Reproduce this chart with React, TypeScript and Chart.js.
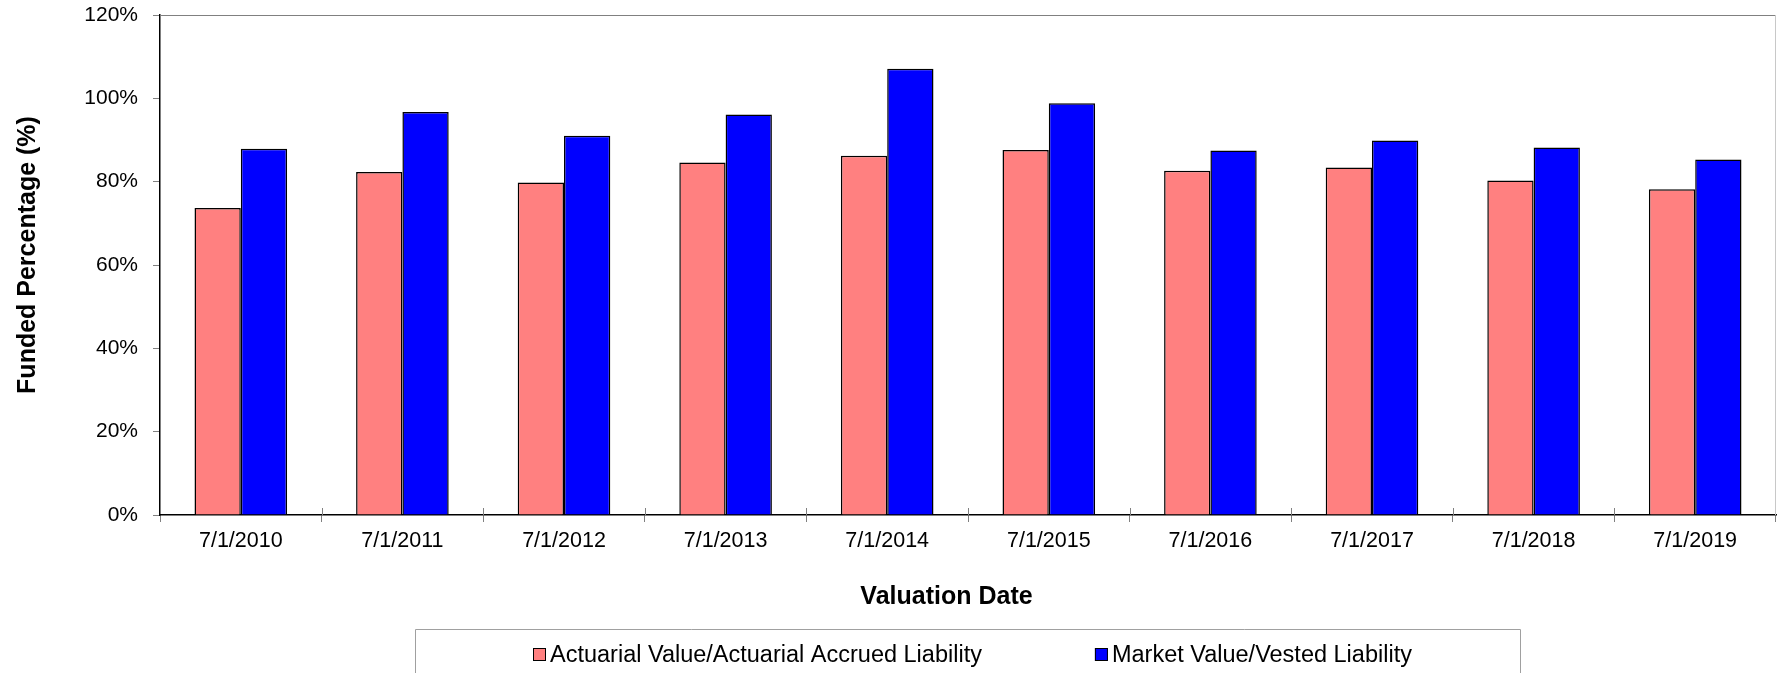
import React, { useEffect, useRef } from 'react';
import { Chart, registerables } from 'chart.js';

Chart.register(...registerables);

const categories = [
  '7/1/2010', '7/1/2011', '7/1/2012', '7/1/2013', '7/1/2014',
  '7/1/2015', '7/1/2016', '7/1/2017', '7/1/2018', '7/1/2019',
];
const actuarialValues = [73.7, 82.3, 79.8, 84.6, 86.2, 87.6, 82.6, 83.4, 80.3, 78.2];
const marketValues = [87.9, 96.7, 91.0, 96.1, 107.1, 98.8, 87.5, 89.9, 88.2, 85.3];
const seriesLabels = ['Actuarial Value/Actuarial Accrued Liability', 'Market Value/Vested Liability'];
const seriesColors = ['#FF8080', '#0000FF'];
const yMin = 0;
const yMax = 120;
const yStep = 20;
const xTitle = 'Valuation Date';
const yTitle = 'Funded Percentage (%)';

const FONT = '"Liberation Sans", Arial, Helvetica, sans-serif';

export default function App() {
  const ref = useRef<HTMLCanvasElement>(null);

  useEffect(() => {
    const canvas = ref.current;
    if (!canvas) return;

    const framePlugin = {
      id: 'frame',
      beforeDatasetsDraw(chart: any) {
        const { ctx, chartArea: a } = chart;
        ctx.save();
        ctx.lineWidth = 1;
        ctx.strokeStyle = '#808080';
        ctx.beginPath();
        ctx.moveTo(a.left, a.top + 0.5);
        ctx.lineTo(a.right, a.top + 0.5);
        ctx.stroke();
        ctx.strokeStyle = '#c8c8c8';
        ctx.beginPath();
        ctx.moveTo(a.right - 0.5, a.top);
        ctx.lineTo(a.right - 0.5, a.bottom);
        ctx.stroke();
        // inner half of x tick marks
        const xs = chart.scales.x;
        ctx.strokeStyle = '#808080';
        const n = chart.data.labels.length;
        for (let i = 0; i < n - 1; i++) {
          const px = Math.round((xs.getPixelForValue(i) + xs.getPixelForValue(i + 1)) / 2) + 0.5;
          ctx.beginPath();
          ctx.moveTo(px, a.bottom - 7);
          ctx.lineTo(px, a.bottom);
          ctx.stroke();
        }
        ctx.restore();
      },
    };

    const titlesPlugin = {
      id: 'axisTitles',
      afterDraw(chart: any) {
        const { ctx, chartArea: a } = chart;
        const cx = (a.left + a.right) / 2;
        const cy = (a.top + a.bottom) / 2;
        ctx.save();
        ctx.fillStyle = '#000';
        ctx.font = `bold 25px ${FONT}`;
        ctx.textAlign = 'center';
        ctx.textBaseline = 'alphabetic';
        ctx.fillText(xTitle, cx - 21.5, 603.5);
        ctx.translate(35, cy - 10);
        ctx.rotate(-Math.PI / 2);
        ctx.fillText(yTitle, 0, 0);
        ctx.restore();
      },
    };

    const legendPlugin = {
      id: 'boxLegend',
      afterDraw(chart: any) {
        const { ctx, chartArea: a } = chart;
        const cx = (a.left + a.right) / 2;
        const boxL = Math.round(cx - 553) + 0.5;
        const boxR = Math.round(cx + 553) - 0.5;
        const boxT = 629.5;
        ctx.save();
        ctx.lineWidth = 1;
        ctx.strokeStyle = '#a0a0a0';
        ctx.beginPath();
        ctx.moveTo(boxL, 700);
        ctx.lineTo(boxL, boxT);
        ctx.lineTo(boxR, boxT);
        ctx.lineTo(boxR, 700);
        ctx.stroke();

        ctx.font = `23.5px ${FONT}`;
        ctx.textBaseline = 'alphabetic';
        ctx.textAlign = 'left';
        const sq = 13;
        const gapText = 4;
        const gapItem = 113;
        const items = chart.data.datasets.map((ds: any) => ({
          label: ds.label,
          color: ds.backgroundColor,
          w: ctx.measureText(ds.label).width,
        }));
        let total = 0;
        items.forEach((it: any, i: number) => {
          total += sq + gapText + it.w + (i > 0 ? gapItem : 0);
        });
        let x = Math.round(cx + 4 - total / 2);
        items.forEach((it: any) => {
          ctx.fillStyle = it.color;
          ctx.fillRect(x, 648, sq, sq);
          ctx.strokeStyle = '#000';
          ctx.strokeRect(x + 0.5, 648.5, sq - 1, sq - 1);
          ctx.fillStyle = '#000';
          ctx.fillText(it.label, x + sq + gapText, 661.5);
          x += sq + gapText + it.w + gapItem;
        });
        ctx.restore();
      },
    };

    const chart = new Chart(canvas, {
      type: 'bar',
      data: {
        labels: categories,
        datasets: [
          {
            label: seriesLabels[0],
            data: actuarialValues,
            backgroundColor: seriesColors[0],
            borderColor: '#000',
            borderWidth: 1.5,
            categoryPercentage: 0.573,
            barPercentage: 1.0,
          },
          {
            label: seriesLabels[1],
            data: marketValues,
            backgroundColor: seriesColors[1],
            borderColor: '#000',
            borderWidth: 1.5,
            categoryPercentage: 0.573,
            barPercentage: 1.0,
          },
        ],
      },
      options: {
        responsive: false,
        animation: false,
        devicePixelRatio: 1,
        layout: { padding: { top: 0, right: 1, bottom: 58, left: 0 } },
        plugins: {
          legend: { display: false },
          tooltip: { enabled: false },
        },
        scales: {
          x: {
            grid: {
              display: true,
              drawOnChartArea: false,
              drawTicks: true,
              tickLength: 7,
              color: '#808080',
              lineWidth: 1,
            },
            border: { display: true, color: '#000', width: 1.5 },
            ticks: {
              color: '#000',
              font: { family: FONT, size: 21.5 },
              padding: 6,
              maxRotation: 0,
              autoSkip: false,
            },
            title: { display: false },
            afterFit(scale: any) {
              scale.height = 100;
            },
          },
          y: {
            min: yMin,
            max: yMax,
            grid: {
              display: true,
              drawOnChartArea: false,
              drawTicks: true,
              tickLength: 7,
              color: '#808080',
              lineWidth: 1,
            },
            border: { display: true, color: '#000', width: 1.5 },
            ticks: {
              stepSize: yStep,
              color: '#000',
              font: { family: FONT, size: 21 },
              padding: 15,
              callback: (v: any) => `${v}%`,
            },
            title: { display: false },
            afterFit(scale: any) {
              scale.width = 160;
              scale.paddingTop = 15;
              scale.paddingBottom = 0;
            },
          },
        },
      },
      plugins: [framePlugin, titlesPlugin, legendPlugin],
    } as any);

    return () => {
      chart.destroy();
    };
  }, []);

  return (
    <div style={{ position: 'absolute', left: 0, top: 0, width: 1777, height: 673, background: '#fff' }}>
      <canvas ref={ref} width={1777} height={673} style={{ display: 'block' }} />
    </div>
  );
}
